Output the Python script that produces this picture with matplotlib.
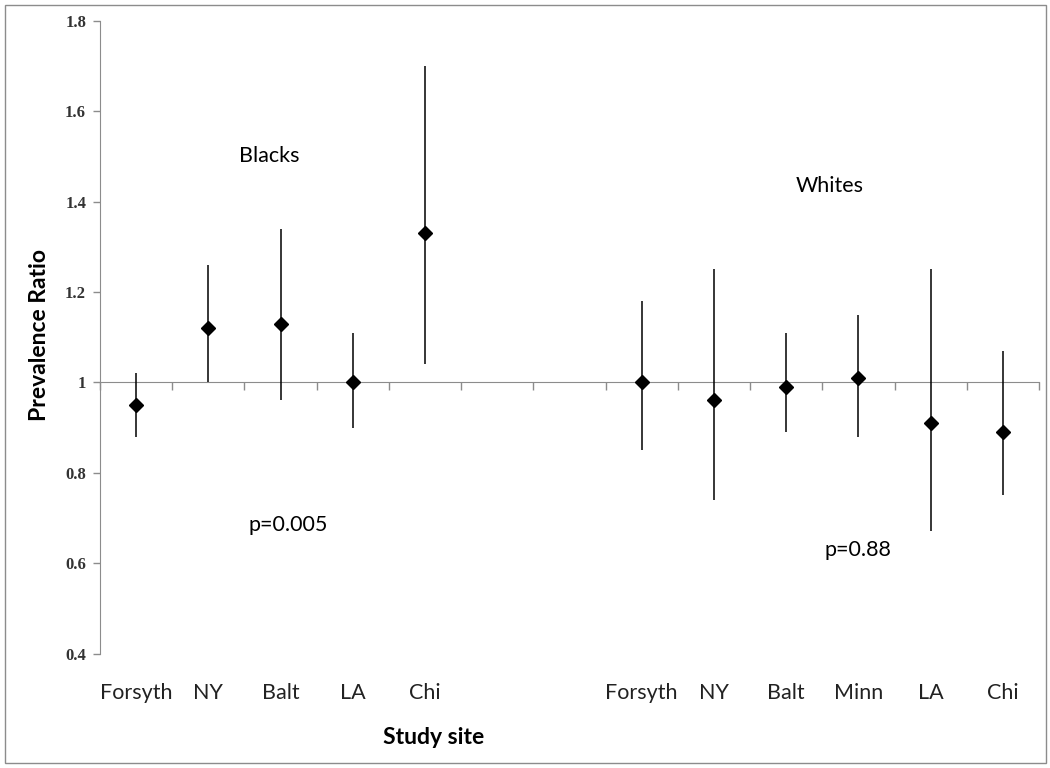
import matplotlib.pyplot as plt
import numpy as np
from matplotlib.patches import Rectangle
from matplotlib.transforms import blended_transform_factory

# Categories (two blank slots separate the groups)
sites = ["Forsyth", "NY", "Balt", "LA", "Chi", "", "",
         "Forsyth", "NY", "Balt", "Minn", "LA", "Chi"]

blacks_pr = [0.95, 1.12, 1.13, 1.00, 1.33]
blacks_lo = [0.88, 1.00, 0.96, 0.90, 1.04]
blacks_hi = [1.02, 1.26, 1.34, 1.11, 1.70]

whites_pr = [1.00, 0.96, 0.99, 1.01, 0.91, 0.89]
whites_lo = [0.85, 0.74, 0.89, 0.88, 0.67, 0.75]
whites_hi = [1.18, 1.25, 1.11, 1.15, 1.25, 1.07]

yticks = [0.4, 0.6, 0.8, 1.0, 1.2, 1.4, 1.6, 1.8]
ytick_labels = ["0.4", "0.6", "0.8", "1", "1.2", "1.4", "1.6", "1.8"]

TXT = "Lato"
GRAY = "#8c8c8c"

fig = plt.figure(figsize=(10.5, 7.68), dpi=100)
ax = fig.add_axes([100 / 1050, 1 - 653.5 / 768, 939 / 1050, 632.8 / 768])

xb = np.arange(len(blacks_pr))
xw = np.arange(len(whites_pr)) + 7

pr = np.array(blacks_pr + whites_pr)
lo = np.array(blacks_lo + whites_lo)
hi = np.array(blacks_hi + whites_hi)
xs = np.concatenate([xb, xw])
ax.vlines(xs, lo, hi, color="black", lw=1.1)
ax.plot(xs, pr, linestyle="none", marker="D", ms=7.5, color="black")

ax.set_xlim(-0.5, len(sites) - 0.5)
ax.set_ylim(0.4, 1.8)

# y axis
ax.set_yticks(yticks)
ax.set_yticklabels(ytick_labels, family="Liberation Serif", fontweight="bold",
                   fontsize=12, color="#333333")
ax.tick_params(axis="y", direction="out", length=5, color=GRAY, width=1, pad=5)
for s in ["top", "right", "bottom"]:
    ax.spines[s].set_visible(False)
ax.spines["left"].set_color(GRAY)

# category labels at the bottom of the plot area
ax.set_xticks([])
trans = blended_transform_factory(ax.transData, ax.transAxes)
for i, name in enumerate(sites):
    ax.text(i, -0.063, name, transform=trans, ha="center", va="center",
            family=TXT, fontsize=15.5, color="#222222")

# horizontal axis crossing at 1
sec = ax.secondary_xaxis((1.0 - 0.4) / (1.8 - 0.4))
sec.set_xticks(np.arange(len(sites) + 1) - 0.5)
sec.set_xticklabels([])
sec.tick_params(direction="out", length=6, color=GRAY, width=1)
sec.spines["bottom"].set_color(GRAY)

# annotations
ax.text(1.85, 1.50, "Blacks", family=TXT, fontsize=15.5, ha="center", va="center")
ax.text(9.6, 1.434, "Whites", family=TXT, fontsize=15.5, ha="center", va="center")
ax.text(2.1, 0.684, "p=0.005", family=TXT, fontsize=15.5, ha="center", va="center")
ax.text(10.0, 0.629, "p=0.88", family=TXT, fontsize=15.5, ha="center", va="center")

fig.text(40 / 1050, 1 - 335 / 768, "Prevalence Ratio", rotation=90, family=TXT,
         fontsize=16.5, fontweight="bold", ha="center", va="center")
fig.text(434 / 1050, 1 - 737 / 768, "Study site", family=TXT, fontsize=16.5,
         fontweight="bold", ha="center", va="center")

# outer chart border
fig.patches.append(Rectangle((5 / 1050, 5 / 768), 1041 / 1050, 758 / 768,
                             transform=fig.transFigure, fill=False,
                             edgecolor=GRAY, lw=1))

fig.savefig("out.png", dpi=100)
